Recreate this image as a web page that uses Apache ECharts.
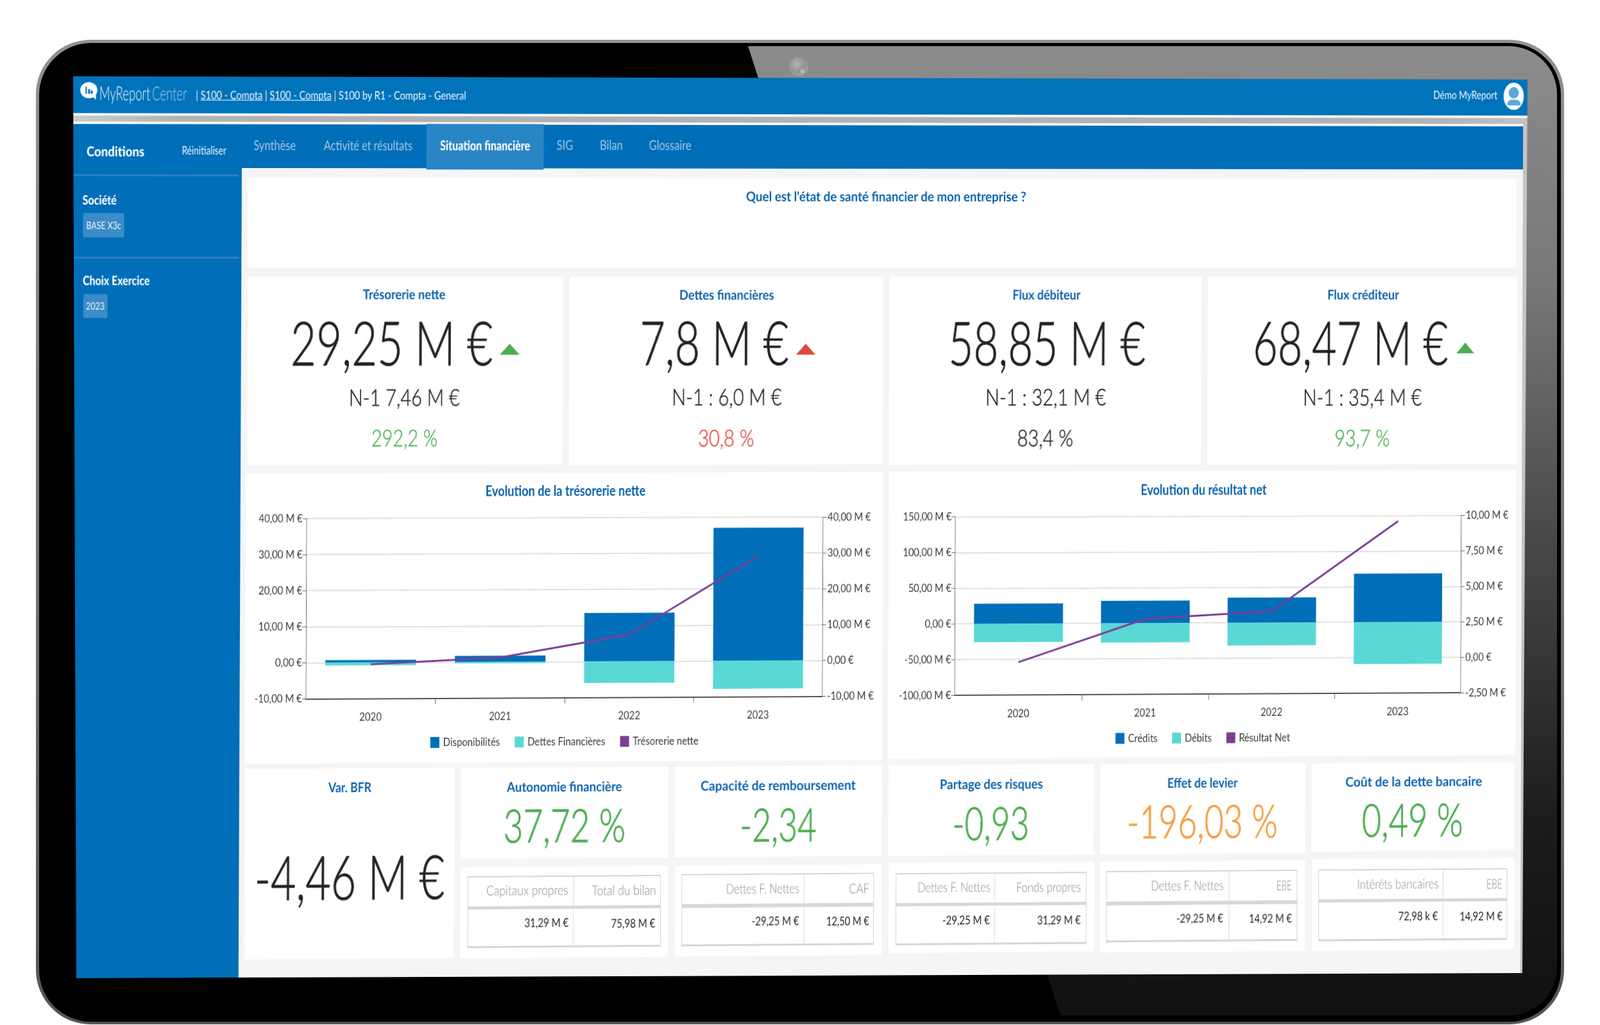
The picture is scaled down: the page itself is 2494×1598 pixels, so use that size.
<!DOCTYPE html>
<html>
<head>
<meta charset="UTF-8">
<title>MyReport Center</title>
<script src="https://cdn.jsdelivr.net/npm/echarts@6/dist/echarts.min.js"></script>
<style>
html,body{margin:0;padding:0;width:2494px;height:1598px;background:#fff;overflow:hidden;font-family:Lato,sans-serif}
#bezel{position:absolute;left:0;top:0}
#screen{position:absolute;left:0;top:0;width:2494px;height:1598px;clip-path:polygon(114px 119px,2381px 124px,2373px 1517px,119px 1525px)}
#layer{position:absolute;left:0;top:0;width:2494px;height:1598px;transform-origin:0 0}
#layer div{position:absolute}
.t{white-space:pre;transform-origin:0 50%}
.t u{text-decoration-thickness:1px}
</style>
</head>
<body>
<svg id="bezel" width="2494" height="1598">
	<defs>
		<linearGradient id="glare" x1="0" y1="0" x2="0" y2="1">
			<stop offset="0" stop-color="#8c8c8c"/>
			<stop offset="0.25" stop-color="#777"/>
			<stop offset="0.5" stop-color="#4a4a4a"/>
			<stop offset="0.8" stop-color="#1c1c1c"/>
			<stop offset="1" stop-color="#101010"/>
		</linearGradient>
		<linearGradient id="rim" x1="0" y1="0" x2="0" y2="1">
			<stop offset="0" stop-color="#929292"/>
			<stop offset="1" stop-color="#555"/>
		</linearGradient>
		<clipPath id="inner"><rect x="68" y="72" width="2359" height="1511" rx="75"/></clipPath>
		<radialGradient id="cam" cx="0.4" cy="0.35" r="0.7"><stop offset="0" stop-color="#b4b4b4"/><stop offset="0.6" stop-color="#939393"/><stop offset="1" stop-color="#a2a2a2"/></radialGradient>
	</defs>
	<rect x="56" y="62" width="2382" height="1535" rx="85" fill="url(#rim)"/>
	<rect x="61" y="67" width="2372" height="1526" rx="81" fill="#000"/>
	<polygon points="1166,72 2440,72 2440,1583 1653,1583" fill="url(#glare)" clip-path="url(#inner)"/>
	<circle cx="1245" cy="104" r="15" fill="url(#cam)"/>
	<circle cx="1251" cy="111" r="3" fill="#bdbdbd"/>
</svg>
<div id="screen"><div id="layer"></div></div>

<script>
// chart data
var years = ['2020', '2021', '2022', '2023'];
var disponibilites = [0.7, 1.7, 13.46, 37.05];
var dettesFin = [-0.8, -0.4, -6.0, -7.8];
var tresorerieNette = [-0.5, 1.2, 7.46, 29.25];
var credits = [28.2, 31.5, 35.4, 68.47];
var debits = [-25.8, -27, -32.1, -58.85];
var resultatNet = [-0.2, 2.8, 3.3, 9.62];

// kpi texts
var kpiTitles = ['Trésorerie nette', 'Dettes financières', 'Flux débiteur', 'Flux créditeur'];
var kpiValues = ['29,25 M €', '7,8 M €', '58,85 M €', '68,47 M €'];
var kpiPrev = ['N-1 7,46 M €', 'N-1 : 6,0 M €', 'N-1 : 32,1 M €', 'N-1 : 35,4 M €'];
var kpiPct = ['292,2 %', '30,8 %', '83,4 %', '93,7 %'];
var ratioTitles = ['Autonomie financière', 'Capacité de remboursement', 'Partage des risques', 'Effet de levier', 'Coût de la dette bancaire'];
var ratioValues = ['37,72 %', '-2,34', '-0,93', '-196,03 %', '0,49 %'];
var ratioHead = [['Capitaux propres', 'Total du bilan'], ['Dettes F. Nettes', 'CAF'], ['Dettes F. Nettes', 'Fonds propres'], ['Dettes F. Nettes', 'EBE'], ['Intérêts bancaires', 'EBE']];
var ratioCell = [['31,29 M €', '75,98 M €'], ['-29,25 M €', '12,50 M €'], ['-29,25 M €', '31,29 M €'], ['-29,25 M €', '14,92 M €'], ['72,98 k €', '14,92 M €']];

var BLUE = '#0a62ae', GREEN = '#4cae50', RED = '#e0483e', ORANGE = '#f5a044', DARK = '#222', GREY = '#858585';

// the screen is photographed in perspective: flat page -> photo
var FX = 386, FY = 277, FW = 1978, FH = 1213;
var q = [[386, 277], [2364, 279], [2360, 1478], [381, 1494]];
function homography() {
	var dx1 = q[1][0] - q[2][0], dx2 = q[3][0] - q[2][0], dy1 = q[1][1] - q[2][1], dy2 = q[3][1] - q[2][1];
	var sx = q[0][0] - q[1][0] + q[2][0] - q[3][0], sy = q[0][1] - q[1][1] + q[2][1] - q[3][1];
	var den = dx1 * dy2 - dx2 * dy1;
	var g = (sx * dy2 - dx2 * sy) / den, h = (dx1 * sy - sx * dy1) / den;
	var a = q[1][0] - q[0][0] + g * q[1][0], b = q[3][0] - q[0][0] + h * q[3][0];
	var d = q[1][1] - q[0][1] + g * q[1][1], e = q[3][1] - q[0][1] + h * q[3][1];
	// u=(X-FX)/FW, v=(Y-FY)/FH
	var m = [[a, b, q[0][0]], [d, e, q[0][1]], [g, h, 1]];
	return m.map(function (r) {
		return [r[0] / FW, r[1] / FH, r[2] - r[0] * FX / FW - r[1] * FY / FH];
	});
}
var M = homography();
function invert(m) {
	var A = m[1][1] * m[2][2] - m[1][2] * m[2][1], B = m[0][2] * m[2][1] - m[0][1] * m[2][2], C = m[0][1] * m[1][2] - m[0][2] * m[1][1];
	var D = m[1][2] * m[2][0] - m[1][0] * m[2][2], E = m[0][0] * m[2][2] - m[0][2] * m[2][0], F = m[0][2] * m[1][0] - m[0][0] * m[1][2];
	var G = m[1][0] * m[2][1] - m[1][1] * m[2][0], H = m[0][1] * m[2][0] - m[0][0] * m[2][1], I = m[0][0] * m[1][1] - m[0][1] * m[1][0];
	return [[A, B, C], [D, E, F], [G, H, I]];
}
var Mi = invert(M);
// photo pixel -> flat page pixel
function R(x, y) {
	var w = Mi[2][0] * x + Mi[2][1] * y + Mi[2][2];
	return [(Mi[0][0] * x + Mi[0][1] * y + Mi[0][2]) / w, (Mi[1][0] * x + Mi[1][1] * y + Mi[1][2]) / w];
}
var layer = document.getElementById('layer');
layer.style.transform = 'matrix3d(' + [M[0][0], M[1][0], 0, M[2][0], M[0][1], M[1][1], 0, M[2][1], 0, 0, 1, 0, M[0][2], M[1][2], 0, M[2][2]].join(',') + ')';

function box(x0, y0, x1, y1, color, extra) {
	var a = R(x0, y0), b = R(x1, y1);
	var el = document.createElement('div');
	el.style.cssText = 'left:' + a[0] + 'px;top:' + a[1] + 'px;width:' + (b[0] - a[0]) + 'px;height:' + (b[1] - a[1]) + 'px;background:' + color + ';' + (extra || '');
	layer.appendChild(el);
	return el;
}
// text squeezed between x0 and x1, vertically centered on yc
function txt(s, x0, x1, yc, size, color, weight, stroke) {
	var a = R(x0, yc), b = R(x1, yc);
	var el = document.createElement('div');
	el.className = 't';
	el.innerHTML = s;
	el.style.cssText = 'left:' + a[0] + 'px;top:' + (a[1] - size / 2 - size * 0.03 - 1) + 'px;font-size:' + size + 'px;line-height:' + size + 'px;color:' + color + ';font-weight:' + (weight || 400) + ';' + (stroke ? '-webkit-text-stroke:' + stroke + 'px ' + color + ';' : '');
	layer.appendChild(el);
	el.style.transform = 'scaleX(' + ((b[0] - a[0]) / el.offsetWidth) + ')';
	return el;
}

// page frame
box(90, 100, 2420, 1560, '#f5f5f5');
box(90, 100, 2420, 180, '#0073bb');
box(90, 180, 2420, 193, '#b7b7b7', 'background:linear-gradient(90deg,#cfcfcf,#b2b2b2 8%,#b2b2b2 92%,#c8c8c8)');
box(90, 193, 2374, 264, '#006eb8');
box(2374, 193, 2420, 1560, '#c4c4c4');
box(90, 193, 372, 1560, '#006eb8');
box(665, 193, 847, 264, '#2a85c5');
box(100, 272, 372, 275, '#2a80c0');
box(100, 400, 372, 403, '#2a80c0');

// header
box(125, 128, 152, 153, '#fff', 'border-radius:50%');
box(142, 148, 150, 156, '#fff', 'clip-path:polygon(0 0,100% 0,100% 100%)');
box(133, 135, 135.5, 146, '#0073bb');
box(137.5, 139, 140, 146, '#0073bb');
box(142, 141, 144.5, 146, '#0073bb');
txt('MyReport', 155, 235, 146, 30, '#fff', 300);
txt('Center', 237, 291, 146, 30, '#a9d0ec', 300);
txt('| <u>S100 - Compta</u> | <u>S100 - Compta</u> | S100 by R1 - Compta - General', 305, 726, 149, 18, '#fff', 400);
txt('Démo MyReport', 2234, 2334, 149, 18, '#fff', 400);
box(2344, 129, 2375, 171, '#fff', 'border-radius:50%');
box(2352, 136, 2367, 154, '#5ba7d8', 'border-radius:50%');
box(2350, 155, 2370, 164, '#5ba7d8', 'border-radius:9px 9px 3px 3px');

// tabs
var TAB = '#a6cbe6';
txt('Conditions', 135, 225, 237, 21, '#fff', 900);
txt('Réinitialiser', 284, 353, 235, 18, '#fff', 400);
txt('Synthèse', 395, 461, 227, 21, TAB, 400);
txt('Activité et résultats', 505, 643, 227, 21, TAB, 400);
txt('Situation financière', 686, 826, 227, 21, '#fff', 900);
txt('SIG', 868, 894, 227, 21, TAB, 400);
txt('Bilan', 935, 971, 227, 21, TAB, 400);
txt('Glossaire', 1012, 1078, 227, 21, TAB, 400);

// side bar
txt('Société', 129, 182, 312.5, 20, '#fff', 900);
box(130, 332, 194, 370, '#3b8bc8', 'border-radius:2px');
txt('BASE X3c', 135, 189, 353, 16, '#fff', 400);
txt('Choix Exercice', 129, 233, 438.5, 20, '#fff', 900);
box(130, 459, 168, 496, '#3b8bc8', 'border-radius:2px');
txt('2023', 134, 163, 478, 16, '#fff', 400);

// question panel
box(386, 277, 2364, 417, '#fff');
txt("Quel est l'état de santé financier de mon entreprise ?", 1163, 1600, 307, 21, BLUE, 700);

// kpi row
var kpiBox = [[386, 877], [888, 1376], [1387, 1872], [1883, 2364]];
var kpiTitleX = [[566, 695], [1059, 1207], [1578, 1684], [2069, 2181]];
var kpiValueX = [[453, 768], [997, 1229], [1478, 1785], [1953, 2257]];
var kpiPrevX = [[544, 717], [1047, 1218], [1536, 1724], [2031, 2216]];
var kpiPctX = [[579, 682], [1088, 1175], [1586, 1673], [2080, 2166]];
var kpiPctColor = [GREEN, RED, DARK, GREEN];
kpiTitles.forEach(function (name, i) {
	box(kpiBox[i][0], 431, kpiBox[i][1], 724, '#fff');
	txt(name, kpiTitleX[i][0], kpiTitleX[i][1], 460, 21, BLUE, 700);
	txt(kpiValues[i], kpiValueX[i][0], kpiValueX[i][1], 537, 95, DARK, 300, 1);
	txt(kpiPrev[i], kpiPrevX[i][0], kpiPrevX[i][1], 620.5, 36, DARK, 300, 0.5);
	txt(kpiPct[i], kpiPctX[i][0], kpiPctX[i][1], 684, 36, kpiPctColor[i], 300, 0.5);
});
box(779, 536, 810, 553, GREEN, 'clip-path:polygon(50% 0,100% 100%,0 100%)');
box(1241, 536, 1271, 553, RED, 'clip-path:polygon(50% 0,100% 100%,0 100%)');
box(2270, 534, 2298, 551, GREEN, 'clip-path:polygon(50% 0,100% 100%,0 100%)');

// bottom row
box(382, 1199, 707, 1493, '#fff');
txt('Var. BFR', 512, 579, 1228, 21, BLUE, 700);
txt('-4,46 M €', 397, 693, 1371, 95, DARK, 300, 1);

var ratioBox = [[718, 1041, 1197, 1337, 1352, 1492], [1052, 1374, 1195, 1335, 1350, 1489], [1385, 1705, 1193, 1332, 1345, 1483], [1715, 2034, 1191, 1330, 1343, 1483], [2045, 2360, 1190, 1326, 1340, 1480]];
var ratioTitleX = [[790, 970, 1227.5], [1092, 1334, 1225.5], [1465, 1626, 1223.5], [1820, 1930, 1221.5], [2097, 2310, 1219.5]];
var ratioValueX = [[785, 975, 1289], [1153, 1273, 1287], [1485, 1605, 1285], [1757, 1992, 1282], [2123, 2281, 1280]];
var ratioColor = [GREEN, GREEN, GREEN, ORANGE, GREEN];
// table: left, divider, right, top, header bottom, bottom
var tableBox = [[729, 893, 1030, 1366, 1414, 1476], [1062, 1253, 1362, 1363, 1411, 1473], [1396, 1550, 1693, 1361, 1409, 1471], [1725, 1915, 2022, 1358, 1407, 1467], [2055, 2249, 2349, 1356, 1403, 1465]];
var headX = [[758, 886, 922, 1022], [1132, 1246, 1323, 1355], [1430, 1543, 1584, 1685], [1794, 1907, 1990, 2014], [2115, 2242, 2317, 2342]];
var cellX = [[817, 886, 953, 1022], [1172, 1246, 1288, 1355], [1469, 1543, 1617, 1685], [1834, 1907, 1947, 2014], [2180, 2242, 2275, 2342]];
ratioTitles.forEach(function (name, i) {
	var b = ratioBox[i], t = tableBox[i];
	box(b[0], b[2], b[1], b[3], '#fff');
	box(b[0], b[4], b[1], b[5], '#fff');
	txt(name, ratioTitleX[i][0], ratioTitleX[i][1], ratioTitleX[i][2], 21, BLUE, 700);
	txt(ratioValues[i], ratioValueX[i][0], ratioValueX[i][1], ratioValueX[i][2], 72, ratioColor[i], 300, 1);
	box(t[0], t[3], t[2], t[5], 'transparent', 'box-sizing:border-box;border:1px solid #d6d6d6;border-top-width:2px;border-bottom-width:3px');
	box(t[0], t[4] - 1, t[2], t[4] + 2, '#d8d8d8');
	box(t[1], t[3], t[1] + 1, t[5], '#dcdcdc');
	var hy = t[3] + 23, vy = t[4] + 26;
	txt(ratioHead[i][0], headX[i][0], headX[i][1], hy, 21, GREY, 300);
	txt(ratioHead[i][1], headX[i][2], headX[i][3], hy, 21, GREY, 300);
	txt(ratioCell[i][0], cellX[i][0], cellX[i][1], vy, 19, DARK, 400);
	txt(ratioCell[i][1], cellX[i][2], cellX[i][3], vy, 19, DARK, 400);
});

// charts: the reference text is condensed, so draw wider and squeeze the whole chart
var K = 0.82;
function money(v) {
	return v === 0 ? '0,00 €' : v.toFixed(2).replace('.', ',') + ' M €';
}
function valueAxis(min, max, step, pos, lines) {
	return {
		type: 'value', min: min, max: max, interval: step, position: pos,
		axisLine: { show: true, onZero: false, lineStyle: { color: '#666', width: 1 } },
		axisTick: { show: true, length: 7, lineStyle: { color: '#666' } },
		axisLabel: { formatter: money, color: '#3a3a3a', fontSize: 18, fontFamily: 'Lato', margin: pos === 'left' ? 7 : 9 },
		splitLine: { show: lines, lineStyle: { color: '#e2e2e2', width: 2 } }
	};
}
function drawChart(o) {
	var card = box(o.card[0], o.card[1], o.card[2], o.card[3], '#fff');
	var c0 = R(o.card[0], o.card[1]), g0 = R(o.grid[0], o.grid[1]), g1 = R(o.grid[2], o.grid[3]);
	var holder = document.createElement('div');
	holder.style.cssText = 'left:0;top:0;transform-origin:0 0;transform:scaleX(' + K + ');width:' + (card.offsetWidth / K) + 'px;height:' + card.offsetHeight + 'px';
	card.appendChild(holder);
	var chart = echarts.init(holder, null, { width: card.offsetWidth / K, height: card.offsetHeight });
	chart.setOption({
		animation: false,
		title: {
			text: o.title, left: 'center', top: o.titleY - c0[1] - 12,
			textStyle: { color: BLUE, fontSize: 22, fontWeight: 'bold', fontFamily: 'Lato' }
		},
		legend: {
			data: o.names, left: 'center', top: o.legendY - c0[1] - 9, icon: 'rect', itemWidth: 17, itemHeight: 17, itemGap: 28,
			textStyle: { color: '#3a3a3a', fontSize: 18, fontFamily: 'Lato', padding: [0, 0, 0, 2] }
		},
		grid: { left: (g0[0] - c0[0]) / K, top: g0[1] - c0[1], width: (g1[0] - g0[0]) / K, height: g1[1] - g0[1], containLabel: false },
		xAxis: [
			{
				type: 'category', data: years, position: 'bottom',
				axisLine: { onZero: false, lineStyle: { color: '#555', width: 2 } },
				axisTick: { show: false },
				axisLabel: { color: '#3a3a3a', fontSize: 18, fontFamily: 'Lato', margin: 20 }
			},
			{
				type: 'value', min: 0, max: years.length, position: 'bottom',
				axisLine: { show: false, onZero: false },
				axisTick: { show: true, customValues: [1, 2, 3], length: 9, lineStyle: { color: '#555' } },
				axisLabel: { show: false }, splitLine: { show: false }
			}
		],
		yAxis: [valueAxis(o.left[0], o.left[1], o.left[2], 'left', true), valueAxis(o.right[0], o.right[1], o.right[2], 'right', false)],
		series: [
			{ name: o.names[0], type: 'bar', stack: 'total', barWidth: '70%', data: o.pos, itemStyle: { color: '#006eb8' } },
			{ name: o.names[1], type: 'bar', stack: 'total', barWidth: '70%', data: o.neg, itemStyle: { color: '#59d8d6' } },
			{ name: o.names[2], type: 'line', yAxisIndex: 1, data: o.line, showSymbol: false, lineStyle: { color: '#7a3e93', width: 3 }, itemStyle: { color: '#7a3e93' }, z: 5 }
		]
	});
}
drawChart({
	card: [383, 738, 1375, 1185], grid: [477.5, 808, 1281.5, 1085],
	title: 'Evolution de la trésorerie nette', titleY: 762, legendY: 1151,
	names: ['Disponibilités', 'Dettes Financières', 'Trésorerie nette'],
	pos: disponibilites, neg: dettesFin, line: tresorerieNette,
	left: [-10, 40, 10], right: [-10, 40, 10]
});
drawChart({
	card: [1386, 735, 2362, 1177], grid: [1489.5, 806, 2277, 1080],
	title: 'Evolution du résultat net', titleY: 763, legendY: 1151,
	names: ['Crédits', 'Débits', 'Résultat Net'],
	pos: credits, neg: debits, line: resultatNet,
	left: [-100, 150, 50], right: [-2.5, 10, 2.5]
});
</script>
</body>
</html>
